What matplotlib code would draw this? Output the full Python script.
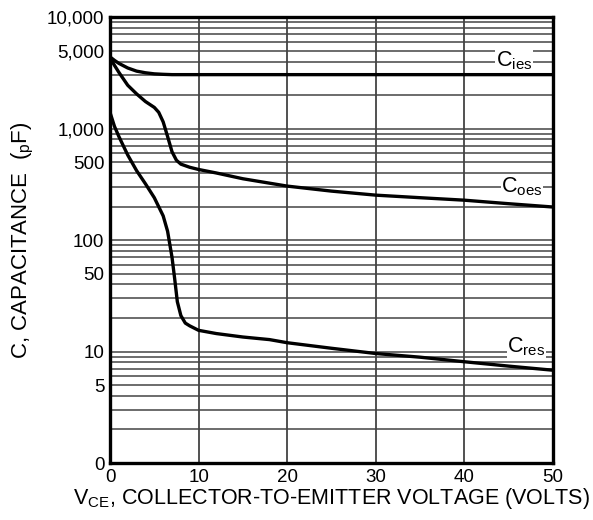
import matplotlib
matplotlib.use("Agg")
import matplotlib.pyplot as plt
from matplotlib.ticker import LogLocator, NullFormatter

plt.rcParams['font.family'] = ['Liberation Sans', 'DejaVu Sans']

# capacitance curves (volts, pF)
cies_v = [0, 0.5, 1, 2, 3, 4, 5, 6, 7, 8, 10, 20, 30, 40, 50]
cies_c = [4400, 4100, 3850, 3500, 3280, 3170, 3100, 3070, 3050, 3050, 3050, 3050, 3050, 3050, 3050]

coes_v = [0, 0.5, 1, 2, 3, 4, 5, 5.5, 6, 6.5, 7, 7.5, 8, 9, 10, 12, 15, 20, 25, 30, 35, 40, 45, 50]
coes_c = [4300, 3700, 3200, 2450, 2050, 1750, 1550, 1400, 1150, 850, 620, 520, 480, 450, 430, 400, 355, 305, 275, 253, 240, 228, 212, 198]

cres_v = [0, 0.5, 1, 2, 3, 4, 5, 6, 6.5, 7, 7.3, 7.6, 8, 8.5, 9, 10, 12, 15, 18, 20, 25, 30, 35, 40, 45, 50]
cres_c = [1400, 1050, 850, 580, 420, 320, 240, 165, 120, 70, 45, 28, 21, 18, 17, 15.5, 14.5, 13.5, 12.8, 12, 10.7, 9.6, 8.9, 8.1, 7.4, 6.8]

x_ticks = [0, 10, 20, 30, 40, 50]
y_ticks = [1, 5, 10, 50, 100, 500, 1000, 5000, 10000]
y_labels = ['0', '5', '10', '50', '100', '500', '1,000', '5,000', '10,000']

curve_labels = [('ies', 45.6, 4100), ('oes', 46.5, 300), ('res', 47.0, 11.0)]

fig = plt.figure(figsize=(5.93, 5.20), dpi=100)
ax = fig.add_axes([0.1855, 0.1096, 0.747, 0.8574])

ax.set_yscale('log')
ax.set_xlim(0, 50)
ax.set_ylim(1, 10000)

# grid
ax.yaxis.set_minor_locator(LogLocator(base=10, subs=range(2, 10)))
ax.yaxis.set_minor_formatter(NullFormatter())
ax.grid(True, which='both', axis='y', color='#444444', linewidth=1.1)
ax.grid(True, which='major', axis='x', color='#222222', linewidth=1.1)

ax.plot(cies_v, cies_c, color='black', linewidth=2.4, zorder=3)
ax.plot(coes_v, coes_c, color='black', linewidth=2.4, zorder=3)
ax.plot(cres_v, cres_c, color='black', linewidth=2.4, zorder=3)

for sub, xv, yv in curve_labels:
    ax.text(xv, yv, r'C$\mathregular{_{%s}}$' % sub, fontsize=15.5, ha='center', va='center',
            zorder=4, bbox=dict(facecolor='white', edgecolor='none', pad=0.3))

ax.set_xticks(x_ticks)
ax.set_xticklabels([str(v) for v in x_ticks])
ax.set_yticks(y_ticks)
ax.set_yticklabels(y_labels)
ax.tick_params(axis='both', which='both', length=0, labelsize=13.5, pad=4)

for s in ax.spines.values():
    s.set_linewidth(2.4)

ax.set_xlabel(r'V$\mathregular{_{CE}}$, COLLECTOR-TO-EMITTER VOLTAGE (VOLTS)', fontsize=15.5, labelpad=0)
ax.set_ylabel(r'C, CAPACITANCE  ($\mathregular{{}_{p}}$F)', fontsize=16, labelpad=8)

fig.savefig('out.png', dpi=100)
